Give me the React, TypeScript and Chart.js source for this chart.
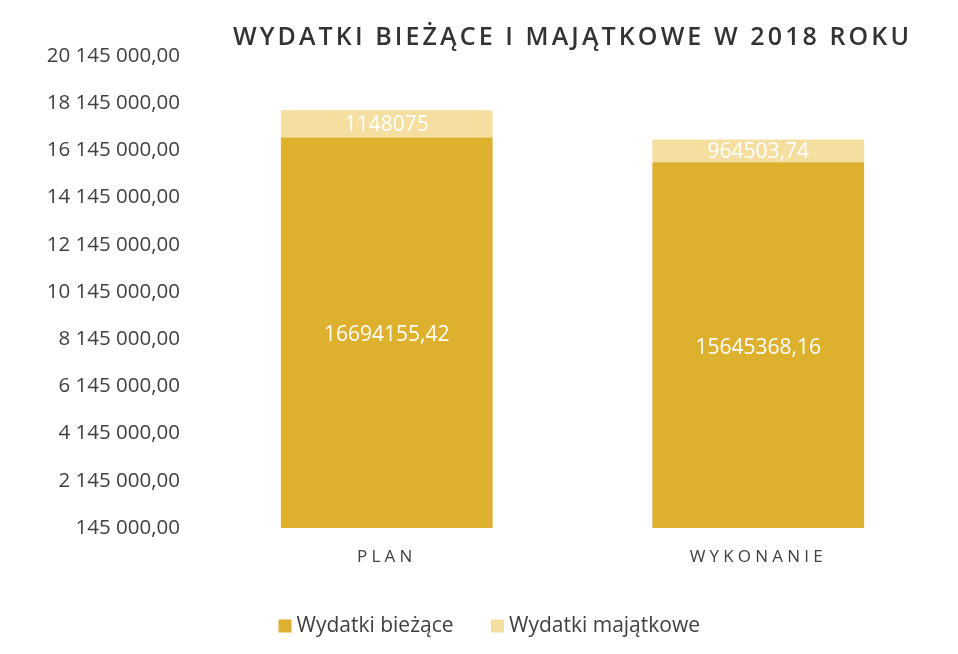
import React, { useEffect, useRef } from "react";
import { Chart, registerables } from "chart.js";

Chart.register(...registerables);

const categories = ["PLAN", "WYKONANIE"];
const biezace = [16694155.42, 15645368.16];
const majatkowe = [1148075, 964503.74];
const seriesNames = ["Wydatki bieżące", "Wydatki majątkowe"];
const titleText = "WYDATKI BIEŻĄCE I MAJĄTKOWE W 2018 ROKU";
const yMin = 145000;
const yMax = 20145000;
const yStep = 2000000;

const FONT = "'Open Sans', 'DejaVu Sans', sans-serif";

function fmtTick(v: number): string {
  const [i, d] = v.toFixed(2).split(".");
  return i.replace(/\B(?=(\d{3})+(?!\d))/g, " ") + "," + d;
}
function fmtVal(v: number): string {
  return String(v).replace(".", ",");
}

function patchSpacing(obj: any, method: string, ctx: any, spacing: string) {
  if (!obj || obj.__patched) return;
  const orig = obj[method];
  obj[method] = function (...args: any[]) {
    ctx.save();
    ctx.letterSpacing = spacing;
    orig.apply(this, args);
    ctx.restore();
  };
  obj.__patched = true;
}

const spacingPlugin = {
  id: "spacingPlugin",
  beforeDraw(chart: any) {
    patchSpacing(chart.titleBlock, "draw", chart.ctx, "3.1px");
    patchSpacing(chart.scales.x, "drawLabels", chart.ctx, "4.2px");
  },
};

const valueLabels = {
  id: "valueLabels",
  afterDatasetsDraw(chart: any) {
    const ctx = chart.ctx;
    ctx.save();
    ctx.fillStyle = "#ffffff";
    ctx.font = `21px ${FONT}`;
    ctx.textAlign = "center";
    ctx.textBaseline = "middle";
    chart.data.datasets.forEach((ds: any, di: number) => {
      const meta = chart.getDatasetMeta(di);
      meta.data.forEach((el: any, i: number) => {
        const y = (el.y + el.base) / 2;
        ctx.fillText(fmtVal(ds.data[i]), el.x, y + 1);
      });
    });
    ctx.restore();
  },
};

export default function App() {
  const ref = useRef<HTMLCanvasElement>(null);
  useEffect(() => {
    if (!ref.current) return;
    const chart = new Chart(ref.current, {
      type: "bar",
      data: {
        labels: categories,
        datasets: [
          {
            label: seriesNames[0],
            data: biezace,
            backgroundColor: "#DDB02E",
            categoryPercentage: 1,
            barPercentage: 0.57,
          },
          {
            label: seriesNames[1],
            data: majatkowe,
            backgroundColor: "#F5DFA0",
            categoryPercentage: 1,
            barPercentage: 0.57,
          },
        ],
      },
      plugins: [spacingPlugin, valueLabels],
      options: {
        animation: false,
        responsive: false,
        maintainAspectRatio: false,
        layout: { padding: { left: 40, right: 14, top: 0, bottom: 7.5 } },
        plugins: {
          title: {
            display: true,
            text: titleText,
            fullSize: false,
            color: "#333333",
            font: { family: FONT, size: 25, weight: "600", lineHeight: 1.2 },
            padding: { top: 23, bottom: 3 },
          },
          legend: {
            position: "bottom",
            labels: {
              color: "#404040",
              font: { family: FONT, size: 21 },
              usePointStyle: true,
              pointStyle: "rect",
              boxWidth: 2,
              boxHeight: 13,
              padding: 43,
            },
          },
          tooltip: { enabled: false },
        },
        scales: {
          x: {
            stacked: true,
            grid: { display: false, drawTicks: false },
            border: { display: false },
            ticks: {
              color: "#404040",
              font: { family: FONT, size: 17 },
              padding: 19,
            },
            afterFit: (s: any) => {
              s.height = 44.5;
            },
          },
          y: {
            stacked: true,
            min: yMin,
            max: yMax,
            grid: { display: false, drawTicks: false },
            border: { display: false },
            ticks: {
              stepSize: yStep,
              color: "#404040",
              font: { family: FONT, size: 20.5 },
              padding: 21,
              callback: (v: any) => fmtTick(Number(v)),
            },
            afterFit: (s: any) => {
              s.width = 161;
            },
          },
        },
      },
    });
    return () => chart.destroy();
  }, []);
  return (
    <div style={{ position: "absolute", left: 0, top: 0, width: 958, height: 654, background: "#fff" }}>
      <canvas ref={ref} width={958} height={654} style={{ width: 958, height: 654 }} />
    </div>
  );
}
